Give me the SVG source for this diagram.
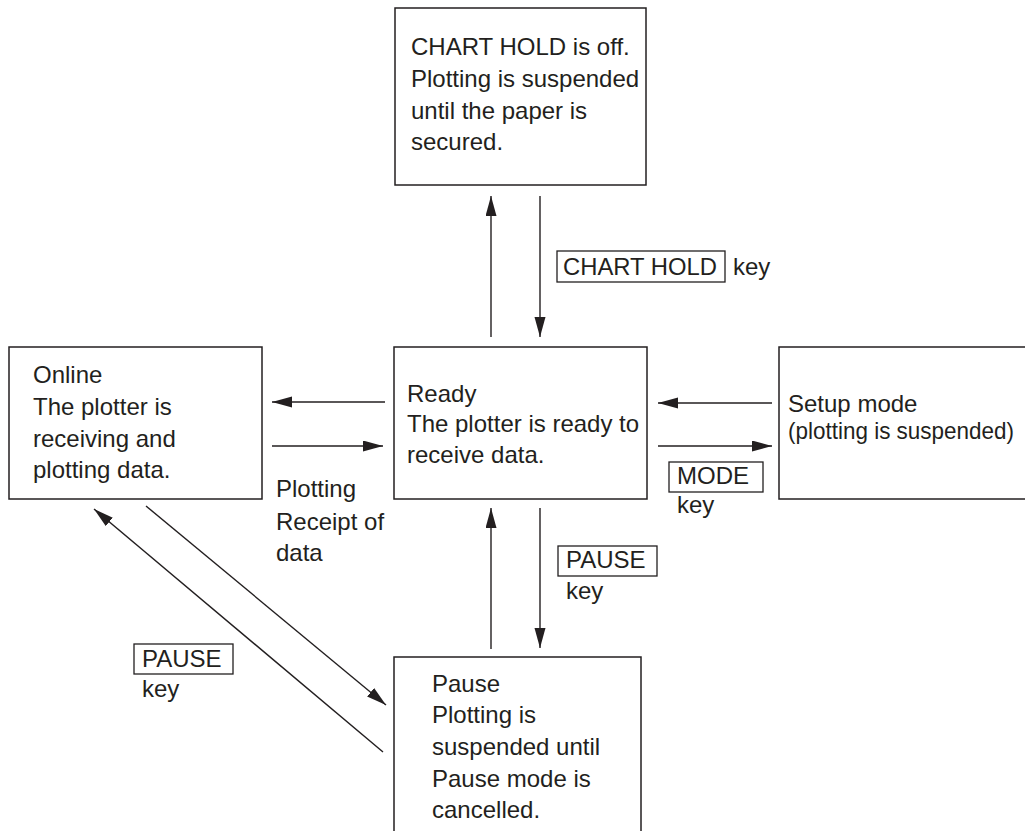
<svg xmlns="http://www.w3.org/2000/svg" width="1025" height="831" viewBox="0 0 1025 831">
<style>
.box{fill:#fff;stroke:#231f20;stroke-width:1.5}
.kbox{fill:none;stroke:#231f20;stroke-width:1.3}
.t{font-family:"Liberation Sans",Arial,sans-serif;font-size:24px;fill:#231f20}
.c{stroke:#231f20;stroke-width:1.4;fill:none;marker-end:url(#ah)}
</style>
<defs>
<marker id="ah" markerUnits="userSpaceOnUse" markerWidth="21" markerHeight="12" refX="20" refY="5.5" orient="auto">
<path d="M0,0 L20,5.5 L0,11 z" fill="#231f20"/>
</marker>
</defs>
<rect width="1025" height="831" fill="#fff"/>
<g id="node-chart-hold">
<rect class="box" x="395" y="8" width="251" height="177"/>
<text class="t" x="411" y="55">CHART HOLD is off.</text>
<text class="t" x="411" y="87">Plotting is suspended</text>
<text class="t" x="411" y="119">until the paper is</text>
<text class="t" x="411" y="150">secured.</text>
</g>
<g id="node-online">
<rect class="box" x="9" y="347" width="253" height="152"/>
<text class="t" x="33" y="383">Online</text>
<text class="t" x="33" y="415">The plotter is</text>
<text class="t" x="33" y="447">receiving and</text>
<text class="t" x="33" y="478">plotting data.</text>
</g>
<g id="node-ready">
<rect class="box" x="394" y="347" width="253" height="152"/>
<text class="t" x="407" y="402">Ready</text>
<text class="t" x="407" y="432">The plotter is ready to</text>
<text class="t" x="407" y="463">receive data.</text>
</g>
<g id="node-setup">
<rect class="box" x="779" y="347" width="260" height="152"/>
<text class="t" x="788" y="412">Setup mode</text>
<text class="t" x="788" y="439" textLength="226" lengthAdjust="spacingAndGlyphs">(plotting is suspended)</text>
</g>
<g id="node-pause">
<rect class="box" x="394" y="657" width="247" height="190"/>
<text class="t" x="432" y="692">Pause</text>
<text class="t" x="432" y="723">Plotting is</text>
<text class="t" x="432" y="755">suspended until</text>
<text class="t" x="432" y="787">Pause mode is</text>
<text class="t" x="432" y="818">cancelled.</text>
</g>
<g id="connectors">
<line class="c" x1="491" y1="337" x2="491" y2="196"/>
<line class="c" x1="540" y1="196" x2="540" y2="337"/>
<line class="c" x1="385" y1="402" x2="272" y2="402"/>
<line class="c" x1="272" y1="446" x2="383" y2="446"/>
<line class="c" x1="772" y1="403" x2="658" y2="403"/>
<line class="c" x1="658" y1="446" x2="772" y2="446"/>
<line class="c" x1="491" y1="649" x2="491" y2="508"/>
<line class="c" x1="540" y1="508" x2="540" y2="648"/>
<line class="c" x1="383" y1="752" x2="94" y2="509"/>
<line class="c" x1="146" y1="506" x2="386" y2="705"/>
</g>
<g id="labels">
<rect class="kbox" x="557" y="251" width="168" height="31"/>
<text class="t" x="563" y="275" textLength="154" lengthAdjust="spacingAndGlyphs">CHART HOLD</text>
<text class="t" x="733" y="275">key</text>
<text class="t" x="276" y="497">Plotting</text>
<text class="t" x="276" y="530">Receipt of</text>
<text class="t" x="276" y="561">data</text>
<rect class="kbox" x="669" y="462" width="94" height="30"/>
<text class="t" x="677" y="484">MODE</text>
<text class="t" x="677" y="513">key</text>
<rect class="kbox" x="558" y="546" width="99" height="30"/>
<text class="t" x="566" y="568">PAUSE</text>
<text class="t" x="566" y="599">key</text>
<rect class="kbox" x="134" y="644" width="99" height="30"/>
<text class="t" x="142" y="667">PAUSE</text>
<text class="t" x="142" y="697">key</text>
</g>
</svg>
